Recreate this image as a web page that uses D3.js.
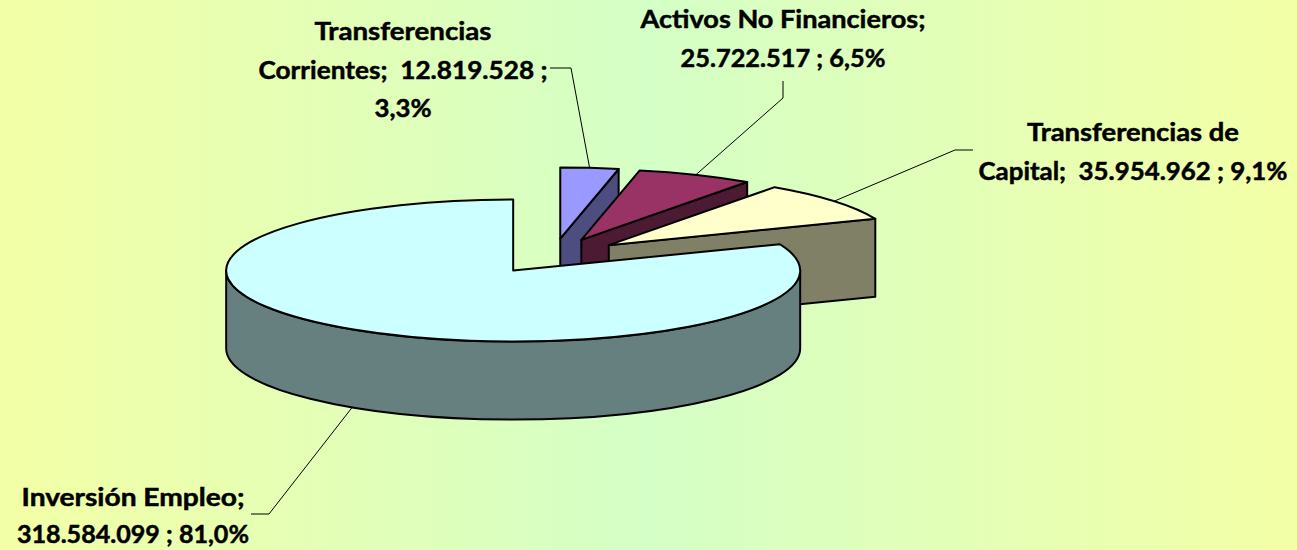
<!DOCTYPE html>
<html>
<head>
<meta charset="utf-8">
<script src="https://cdn.jsdelivr.net/npm/d3@7"></script>
<style>
  html, body { margin: 0; padding: 0; background: #fff; }
  svg { display: block; }
  text { font-family: Lato, "Open Sans", sans-serif; font-weight: 700; white-space: pre; }
</style>
</head>
<body>
<svg id="chart" width="1297" height="550"></svg>
<script>
// ---- data ----
const categories = ["Transferencias Corrientes", "Activos No Financieros", "Transferencias de Capital", "Inversión Empleo"];
const values = [12819528, 25722517, 35954962, 318584099];
const topColors = ["#9999FF", "#993366", "#FFFFCC", "#CCFFFF"];
const labelTemplates = [
  ["Transferencias", "Corrientes;  {v} ;", "{p}"],
  ["Activos No Financieros;", "{v} ; {p}"],
  ["Transferencias de", "Capital;  {v} ; {p}"],
  ["Inversión Empleo;", "{v} ; {p}"]
];

// ---- layout ----
const W = 1297, H = 550;
const cx = 553, cy = 256, rx = 287, ry = 71, depth = 78, explode = 71;
const labelLayout = [
  { x: 403, y: 40, lh: 38.5, widths: [177, 289, 57], leader: [[550, 68], [571, 68]] },
  { x: 783, y: 28, lh: 38.5, widths: [285, 205], leader: [[783, 81], [783, 98]] },
  { x: 1133, y: 141, lh: 39, widths: [212, 309], leader: [[973, 150], [955, 150]] },
  { x: 133, y: 506, lh: 37, widths: [223, 232], leader: [[251, 514], [269, 514]] }
];

const loc = d3.formatLocale({ decimal: ",", thousands: ".", grouping: [3], currency: ["", ""] });
const fmtNum = loc.format(",d");
const fmtPct = loc.format(".1%");
const total = d3.sum(values);

const svg = d3.select("#chart");
const defs = svg.append("defs");
const grad = defs.append("linearGradient").attr("id", "bg").attr("x1", "0").attr("x2", "1").attr("y1", "0").attr("y2", "0");
grad.append("stop").attr("offset", "0").attr("stop-color", "#F3FFA6");
grad.append("stop").attr("offset", "0.5").attr("stop-color", "#D4FFC6");
grad.append("stop").attr("offset", "1").attr("stop-color", "#F3FFA6");
svg.append("rect").attr("width", W).attr("height", H).attr("fill", "url(#bg)");

// projection scales (unit circle -> screen ellipse)
const sx = d3.scaleLinear().domain([-1, 1]).range([-rx, rx]);
const sy = d3.scaleLinear().domain([-1, 1]).range([ry, -ry]);

const pie = d3.pie().sort(null).value(d => d).startAngle(0).endAngle(2 * Math.PI);
const arcs = pie(values).map((a, i) => {
  const mid = (a.startAngle + a.endAngle) / 2;
  const ox = cx + sx(Math.sin(mid)) * explode / rx;
  const oy = cy + sy(Math.cos(mid)) * explode / rx;
  return { ...a, i, mid, ox, oy };
});

function pt(s, t, dz = 0) { return [s.ox + sx(Math.sin(t)), s.oy + sy(Math.cos(t)) + dz]; }
function P(p) { return p[0].toFixed(2) + "," + p[1].toFixed(2); }

function topPath(s) {
  const large = (s.endAngle - s.startAngle) > Math.PI ? 1 : 0;
  return `M${s.ox},${s.oy}L${P(pt(s, s.startAngle))}A${rx},${ry} 0 ${large} 1 ${P(pt(s, s.endAngle))}Z`;
}
function wallPath(s, a, b) {
  const large = (b - a) > Math.PI ? 1 : 0;
  return `M${P(pt(s, a))}A${rx},${ry} 0 ${large} 1 ${P(pt(s, b))}L${P(pt(s, b, depth))}A${rx},${ry} 0 ${large} 0 ${P(pt(s, a, depth))}Z`;
}
function radialPath(s, t) {
  const c = [s.ox, s.oy];
  const e = pt(s, t);
  return `M${P(c)}L${P(e)}L${P([e[0], e[1] + depth])}L${P([c[0], c[1] + depth])}Z`;
}

const order = arcs.slice().sort((a, b) => Math.cos(b.mid) - Math.cos(a.mid));
const g = svg.append("g").attr("stroke", "#000").attr("stroke-width", 2).attr("stroke-linejoin", "round");
order.forEach(s => {
  const top = topColors[s.i];
  const c = d3.rgb(top);
  const side = d3.rgb(c.r * 0.5, c.g * 0.5, c.b * 0.5).formatHex();
  const sg = g.append("g").attr("class", "slice");
  if (Math.sin(s.startAngle) < -1e-6) sg.append("path").attr("d", radialPath(s, s.startAngle)).attr("fill", side);
  if (Math.sin(s.endAngle) > 1e-6) sg.append("path").attr("d", radialPath(s, s.endAngle)).attr("fill", side);
  const a = Math.max(s.startAngle, Math.PI / 2), b = Math.min(s.endAngle, 3 * Math.PI / 2);
  if (b > a) sg.append("path").attr("d", wallPath(s, a, b)).attr("fill", side);
  sg.append("path").attr("d", topPath(s)).attr("fill", top);
});

// leader lines
const lg = svg.append("g").attr("fill", "none").attr("stroke", "#000").attr("stroke-width", 1);
arcs.forEach(s => {
  const front = Math.cos(s.mid) < 0;
  const anchor = pt(s, s.mid, front ? depth : 0);
  const L = labelLayout[s.i].leader;
  lg.append("path").attr("d", d3.line()([L[0], L[1], anchor]));
});

// labels
const tg = svg.append("g").attr("font-size", 25).attr("fill", "#000").attr("stroke", "#000").attr("stroke-width", 0.5).attr("text-anchor", "middle");
arcs.forEach(s => {
  const lay = labelLayout[s.i];
  const lines = labelTemplates[s.i].map(t => t.replace("{v}", fmtNum(values[s.i])).replace("{p}", fmtPct(values[s.i] / total)));
  lines.forEach((ln, k) => {
    tg.append("text").attr("x", lay.x).attr("y", lay.y + k * lay.lh)
      .attr("textLength", lay.widths[k]).attr("lengthAdjust", "spacingAndGlyphs")
      .text(ln);
  });
});
</script>
</body>
</html>
